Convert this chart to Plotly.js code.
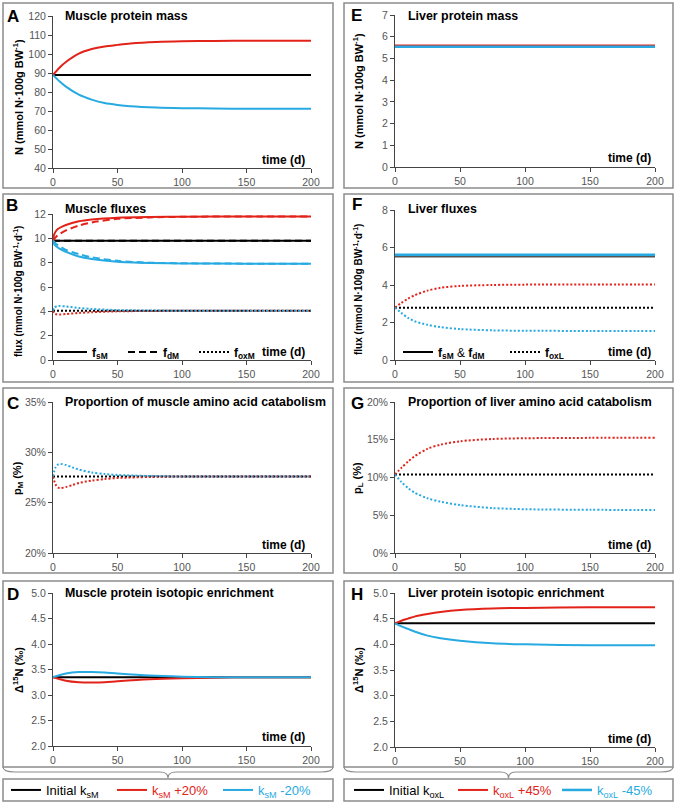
<!DOCTYPE html>
<html>
<head>
<meta charset="utf-8">
<script src="https://cdn.plot.ly/plotly-3.0.1.min.js"></script>
<style>
  body { margin: 0; background: #fff; }
  #chart { width: 678px; height: 805px; }
</style>
</head>
<body>
<div id="chart"></div>
<script>
// ---- data ----
const tFlat = [0, 200];

// A: muscle protein mass
const tA = [0, 5, 10, 20, 30, 40, 50, 60, 80, 100, 125, 150, 200];
const massMInit = [89, 89];
const massMUp = [89, 92.8, 95.8, 100.2, 102.6, 104.0, 104.8, 105.5, 106.3, 106.7, 106.9, 107.0, 107.0];
const massMDown = [89, 85.6, 82.8, 78.6, 76.0, 74.2, 73.2, 72.5, 71.8, 71.5, 71.3, 71.2, 71.2];

// B: muscle fluxes
const tB = [0, 1, 3, 5, 10, 20, 30, 50, 75, 100, 150, 200];
const fsMInit = [9.8, 9.8];
const fdMInit = [9.8, 9.8];
const foxMInit = [4.05, 4.05];
const fsMUp = [9.8, 10.35, 10.7, 10.85, 11.1, 11.4, 11.55, 11.7, 11.76, 11.78, 11.8, 11.8];
const fdMUp = [9.8, 9.95, 10.2, 10.35, 10.65, 11.05, 11.3, 11.6, 11.72, 11.77, 11.8, 11.8];
const fsMDown = [9.8, 9.5, 9.3, 9.15, 8.9, 8.5, 8.3, 8.08, 7.98, 7.94, 7.92, 7.92];
const fdMDown = [9.8, 9.7, 9.5, 9.35, 9.05, 8.7, 8.45, 8.15, 8.0, 7.95, 7.92, 7.92];
const foxMUp = [4.05, 3.85, 3.75, 3.74, 3.78, 3.87, 3.93, 4.0, 4.03, 4.05, 4.05, 4.05];
const foxMDown = [4.05, 4.3, 4.42, 4.44, 4.4, 4.28, 4.2, 4.1, 4.07, 4.05, 4.05, 4.05];

// C: proportion of muscle amino acid catabolism (%)
const tC = [0, 2, 4, 6, 10, 15, 20, 30, 40, 50, 75, 100, 200];
const pMInit = [27.6, 27.6];
const pMUp = [27.6, 26.8, 26.5, 26.45, 26.55, 26.75, 26.95, 27.2, 27.35, 27.45, 27.55, 27.6, 27.6];
const pMDown = [27.6, 28.5, 28.8, 28.85, 28.75, 28.5, 28.3, 28.0, 27.85, 27.75, 27.65, 27.6, 27.6];

// D: muscle protein isotopic enrichment
const tD = [0, 10, 20, 30, 40, 50, 75, 100, 125, 150, 200];
const d15MInit = [3.35, 3.35];
const d15MUp = [3.35, 3.28, 3.25, 3.245, 3.25, 3.27, 3.31, 3.33, 3.34, 3.35, 3.35];
const d15MDown = [3.35, 3.42, 3.45, 3.45, 3.44, 3.42, 3.38, 3.36, 3.35, 3.35, 3.35];

// E: liver protein mass
const massLInit = [5.55, 5.55];
const massLUp = [5.59, 5.59];
const massLDown = [5.54, 5.54];

// F: liver fluxes
const tF = [0, 5, 10, 15, 25, 35, 50, 75, 100, 150, 200];
const fsLInit = [5.55, 5.55];
const fsLUp = [5.6, 5.6];
const fsLDown = [5.61, 5.61];
const foxLInit = [2.78, 2.78];
const foxLUp = [2.8, 3.05, 3.27, 3.45, 3.7, 3.85, 3.95, 4.0, 4.02, 4.03, 4.03];
const foxLDown = [2.8, 2.5, 2.25, 2.07, 1.88, 1.75, 1.65, 1.58, 1.56, 1.55, 1.55];

// G: proportion of liver amino acid catabolism (%)
const pLInit = [10.4, 10.4];
const pLUp = [10.4, 11.3, 12.1, 12.8, 13.8, 14.35, 14.8, 15.1, 15.2, 15.25, 15.25];
const pLDown = [10.4, 9.4, 8.6, 8.0, 7.25, 6.8, 6.35, 5.95, 5.8, 5.72, 5.7];

// H: liver protein isotopic enrichment
const d15LInit = [4.41, 4.41];
const d15LUp = [4.41, 4.46, 4.5, 4.54, 4.59, 4.63, 4.67, 4.7, 4.71, 4.72, 4.72];
const d15LDown = [4.41, 4.35, 4.3, 4.25, 4.17, 4.12, 4.07, 4.02, 4.0, 3.98, 3.98];

const xTicks = [0, 50, 100, 150, 200];

// ---- styling ----
const BLACK = '#000000', RED = '#e2231a', BLUE = '#27aae1';
const FONT = 'Liberation Sans, Arial, sans-serif';
const W = 678, H = 805;
const px = x => x / W;
const py = y => 1 - y / H;
const DOT = '2px,2px';
const DASH = '7px,4px';

function line(k, x, y, color, extra) {
    const s = k === 1 ? '' : String(k);
    return Object.assign({
        type: 'scatter', mode: 'lines', x: x, y: y,
        xaxis: 'x' + s, yaxis: 'y' + s,
        line: { color: color, width: 2, shape: 'spline', smoothing: 0.8 },
        showlegend: false, hoverinfo: 'skip'
    }, extra || {});
}
function styled(k, x, y, color, dash, extra) {
    const t = line(k, x, y, color, extra);
    if (dash) t.line.dash = dash;
    return t;
}

const leftNames = ['Initial k<sub>sM</sub>',
    '<span style="color:' + RED + '">k<sub>sM</sub> +20%</span>',
    '<span style="color:' + BLUE + '">k<sub>sM</sub> -20%</span>'];
const rightNames = ['Initial k<sub>oxL</sub>',
    '<span style="color:' + RED + '">k<sub>oxL</sub> +45%</span>',
    '<span style="color:' + BLUE + '">k<sub>oxL</sub> -45%</span>'];

const data = [
    // A (also feeds the bottom-left legend)
    line(1, tFlat, massMInit, BLACK, { name: leftNames[0], showlegend: true, legend: 'legend3' }),
    line(1, tA, massMUp, RED, { name: leftNames[1], showlegend: true, legend: 'legend3' }),
    line(1, tA, massMDown, BLUE, { name: leftNames[2], showlegend: true, legend: 'legend3' }),
    // B
    styled(2, tFlat, fsMInit, BLACK, null),
    styled(2, tFlat, fdMInit, BLACK, DASH),
    styled(2, tFlat, foxMInit, BLACK, DOT),
    styled(2, tB, fsMUp, RED, null),
    styled(2, tB, fdMUp, RED, DASH),
    styled(2, tB, foxMUp, RED, DOT),
    styled(2, tB, fsMDown, BLUE, null),
    styled(2, tB, fdMDown, BLUE, DASH),
    styled(2, tB, foxMDown, BLUE, DOT),
    // legend keys for B
    styled(2, [null], [null], BLACK, null, { name: 'f<sub>sM</sub>', showlegend: true, legend: 'legend' }),
    styled(2, [null], [null], BLACK, DASH, { name: 'f<sub>dM</sub>', showlegend: true, legend: 'legend' }),
    styled(2, [null], [null], BLACK, DOT, { name: 'f<sub>oxM</sub>', showlegend: true, legend: 'legend' }),
    // C
    styled(3, tFlat, pMInit, BLACK, DOT),
    styled(3, tC, pMUp, RED, DOT),
    styled(3, tC, pMDown, BLUE, DOT),
    // D
    line(4, tFlat, d15MInit, BLACK),
    line(4, tD, d15MUp, RED),
    line(4, tD, d15MDown, BLUE),
    // E (also feeds the bottom-right legend)
    line(5, tFlat, massLInit, BLACK, { name: rightNames[0], showlegend: true, legend: 'legend4' }),
    line(5, tFlat, massLUp, RED, { name: rightNames[1], showlegend: true, legend: 'legend4' }),
    line(5, tFlat, massLDown, BLUE, { name: rightNames[2], showlegend: true, legend: 'legend4', line: { color: BLUE, width: 2.5 } }),
    // F
    styled(6, tFlat, fsLInit, '#555555', null, { line: { color: '#555555', width: 3 } }),
    styled(6, tFlat, fsLUp, RED, null),
    styled(6, tFlat, fsLDown, BLUE, null, { line: { color: BLUE, width: 2.5 } }),
    styled(6, tFlat, foxLInit, BLACK, DOT),
    styled(6, tF, foxLUp, RED, DOT),
    styled(6, tF, foxLDown, BLUE, DOT),
    styled(6, [null], [null], BLACK, null, { name: 'f<sub>sM</sub> <span style="font-weight:normal">&amp;</span> f<sub>dM</sub>', showlegend: true, legend: 'legend2' }),
    styled(6, [null], [null], BLACK, DOT, { name: 'f<sub>oxL</sub>', showlegend: true, legend: 'legend2' }),
    // G
    styled(7, tFlat, pLInit, BLACK, DOT),
    styled(7, tF, pLUp, RED, DOT),
    styled(7, tF, pLDown, BLUE, DOT),
    // H
    line(8, tFlat, d15LInit, BLACK),
    line(8, tF, d15LUp, RED),
    line(8, tF, d15LDown, BLUE)
];

// ---- layout ----
const panels = [
    { k: 1, x0: 53, x1: 311, y0: 16, y1: 168, range: [40, 120], dtick: 10 },
    { k: 2, x0: 53, x1: 311, y0: 214, y1: 360, range: [0, 12], dtick: 2 },
    { k: 3, x0: 53, x1: 311, y0: 402, y1: 553, range: [20, 35], dtick: 5, suffix: '%' },
    { k: 4, x0: 53, x1: 311, y0: 593, y1: 746, range: [2, 5], dtick: 0.5, fmt: '.1f' },
    { k: 5, x0: 395, x1: 655, y0: 15, y1: 167, range: [0, 7], dtick: 1 },
    { k: 6, x0: 395, x1: 655, y0: 210, y1: 360, range: [0, 8], dtick: 2 },
    { k: 7, x0: 395, x1: 655, y0: 402, y1: 553, range: [0, 20], dtick: 5, suffix: '%' },
    { k: 8, x0: 395, x1: 655, y0: 593, y1: 747, range: [2, 5], dtick: 0.5, fmt: '.1f' }
];

const tickFont = { family: FONT, size: 10.5, color: '#555' };
const layout = {
    width: W, height: H,
    margin: { l: 0, r: 0, t: 0, b: 0 },
    paper_bgcolor: '#fff', plot_bgcolor: 'rgba(0,0,0,0)',
    font: { family: FONT },
    annotations: [], shapes: []
};

panels.forEach(p => {
    const s = p.k === 1 ? '' : String(p.k);
    layout['xaxis' + s] = {
        domain: [px(p.x0), px(p.x1)], anchor: 'y' + s,
        range: [0, 200], tickvals: xTicks, fixedrange: true,
        showgrid: false, zeroline: false, showline: true, linecolor: '#444', linewidth: 1,
        ticks: 'outside', ticklen: 4, tickcolor: '#444', tickfont: tickFont
    };
    layout['yaxis' + s] = {
        domain: [py(p.y1), py(p.y0)], anchor: 'x' + s,
        range: p.range, dtick: p.dtick, tick0: p.range[0], fixedrange: true,
        ticksuffix: p.suffix || '', tickformat: p.fmt || '',
        showgrid: false, zeroline: false, showline: true, linecolor: '#444', linewidth: 1,
        ticks: 'outside', ticklen: 4, tickcolor: '#444', tickfont: tickFont
    };
});

function ann(text, x, y, size, extra) {
    layout.annotations.push(Object.assign({
        text: text, xref: 'paper', yref: 'paper', x: px(x), y: py(y),
        xanchor: 'left', yanchor: 'middle', showarrow: false,
        font: { family: FONT, size: size, color: '#000', weight: 'bold' }
    }, extra || {}));
}

// panel letters
[['A', 13, 17], ['B', 12, 206], ['C', 13, 403], ['D', 13, 594],
 ['E', 356, 16], ['F', 357, 205], ['G', 357, 403], ['H', 357, 594]]
    .forEach(a => ann(a[0], a[1], a[2], 17, { xanchor: 'center' }));

// panel titles
[['Muscle protein mass', 63, 16], ['Muscle fluxes', 63, 209],
 ['Proportion of muscle amino acid catabolism', 63, 402], ['Muscle protein isotopic enrichment', 63, 593],
 ['Liver protein mass', 406, 16], ['Liver fluxes', 406, 209],
 ['Proportion of liver amino acid catabolism', 406, 402], ['Liver protein isotopic enrichment', 406, 593]]
    .forEach(a => ann(a[0], a[1], a[2], 12.4));

// y axis titles
const yTitleN = 'N (mmol N·100g BW<sup>-1</sup>)';
const yTitleFlux = 'flux (mmol N·100g BW<sup>-1</sup>·d<sup>-1</sup>)';
const yTitleD = 'Δ<sup>15</sup>N (‰)';
[[yTitleN, 18, 97, 11], [yTitleFlux, 18, 292, 10], ['p<sub>M</sub> (%)', 18, 478, 11], [yTitleD, 18, 670, 11],
 [yTitleN, 358, 91, 11], [yTitleFlux, 358, 290, 10], ['p<sub>L</sub> (%)', 358, 478, 11], [yTitleD, 358, 670, 11]]
    .forEach(a => ann(a[0], a[1], a[2], a[3], { xanchor: 'center', textangle: -90 }));

// "time (d)" labels
[[307, 160], [307, 352], [307, 545], [307, 737], [653, 158], [653, 352], [653, 545], [653, 739]]
    .forEach(a => ann('time (d)', a[0], a[1], 12, { xanchor: 'right' }));

// panel frames
const frameStyle = { color: '#8c8c8c', width: 1.5 };
const cols = [[3, 333], [344, 673]];
const rows = [[3, 188], [194, 382], [388, 573], [581, 767], [779, 801]];
cols.forEach(c => rows.forEach(r => {
    layout.shapes.push({
        type: 'rect', xref: 'paper', yref: 'paper', layer: 'below',
        x0: px(c[0]), x1: px(c[1]), y0: py(r[1]), y1: py(r[0]), line: frameStyle
    });
}));

// curly braces joining the panels to their legend
function pathPx(cmds) {
    return cmds.map(c => c[0] + ' ' + c.slice(1).map((v, i) => i % 2 === 0 ? px(v) : py(v)).join(',')).join(' ');
}
cols.forEach(c => {
    const a = c[0], b = c[1], m = (a + b) / 2;
    layout.shapes.push({
        type: 'path', xref: 'paper', yref: 'paper',
        path: pathPx([['M', a, 767], ['Q', a, 772, a + 12, 772], ['L', m - 8, 772],
                      ['Q', m, 772, m, 778], ['Q', m, 772, m + 8, 772], ['L', b - 12, 772],
                      ['Q', b, 772, b, 767]]),
        line: { color: '#8c8c8c', width: 1.2 }
    });
});

// legends
const legBase = {
    orientation: 'h', bgcolor: 'rgba(0,0,0,0)', borderwidth: 0,
    yanchor: 'middle', xanchor: 'left', traceorder: 'normal', itemclick: false, itemdoubleclick: false
};
layout.legend = Object.assign({}, legBase, {
    x: px(52), y: py(352), font: { family: FONT, size: 12, color: '#000', weight: 'bold' },
    entrywidth: 26, entrywidthmode: 'pixels', itemwidth: 30
});
layout.legend2 = Object.assign({}, legBase, {
    x: px(398), y: py(352), font: { family: FONT, size: 12, color: '#000', weight: 'bold' },
    entrywidth: 62, entrywidthmode: 'pixels', itemwidth: 30
});
layout.legend3 = Object.assign({}, legBase, {
    x: px(6), y: py(790), font: { family: FONT, size: 13, color: '#000' },
    entrywidth: 61, entrywidthmode: 'pixels', itemwidth: 30
});
layout.legend4 = Object.assign({}, legBase, {
    x: px(349), y: py(790), font: { family: FONT, size: 13, color: '#000' },
    entrywidth: 59, entrywidthmode: 'pixels', itemwidth: 30
});

Plotly.newPlot('chart', data, layout, { displayModeBar: false, staticPlot: true });
</script>
</body>
</html>
